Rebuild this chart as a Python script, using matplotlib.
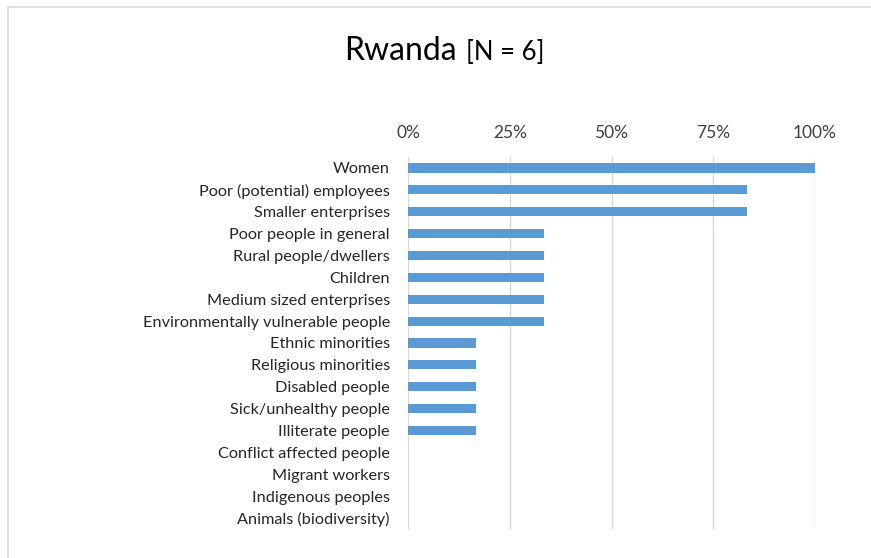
import matplotlib.pyplot as plt
from matplotlib.patches import Rectangle

categories = ["Women", "Poor (potential) employees", "Smaller enterprises",
              "Poor people in general", "Rural people/dwellers", "Children",
              "Medium sized enterprises", "Environmentally vulnerable people",
              "Ethnic minorities", "Religious minorities", "Disabled people",
              "Sick/unhealthy people", "Illiterate people", "Conflict affected people",
              "Migrant workers", "Indigenous peoples", "Animals (biodiversity)"]
counts = [6, 5, 5, 2, 2, 2, 2, 2, 1, 1, 1, 1, 1, 0, 0, 0, 0]
n_total = 6
shares = [c / n_total for c in counts]
ticks = [0, 0.25, 0.5, 0.75, 1.0]
tick_labels = ["0%", "25%", "50%", "75%", "100%"]

plt.rcParams['font.family'] = ['Lato', 'DejaVu Sans']

W, H = 871, 558
fig = plt.figure(figsize=(W / 100, H / 100), dpi=100)

# light frame around the chart area
fig.patches.append(Rectangle((8 / W, -0.1), 1.2, 1 - 7 / H + 0.1, transform=fig.transFigure,
                             fill=False, edgecolor="#d9d9d9", linewidth=1.2))

ax = fig.add_axes([408 / W, 1 - 529 / H, 407 / W, 372 / H])
y = list(range(len(categories)))
ax.barh(y, shares, height=0.42, color="#5b9bd5", zorder=3)
ax.set_ylim(len(categories) - 0.5, -0.5)
ax.set_xlim(0, 1)
ax.set_yticks(y)
ax.set_yticklabels(categories, fontsize=11.7, color="#262626")
ax.set_xticks(ticks)
ax.set_xticklabels(tick_labels, fontsize=12.5, color="#404040")
ax.xaxis.tick_top()
ax.tick_params(axis="both", length=0)
ax.tick_params(axis="x", pad=11.5)
ax.tick_params(axis="y", pad=13)
ax.grid(axis="x", color="#d9d9d9", linewidth=1, zorder=0)
for s in ax.spines.values():
    s.set_visible(False)

fig.text(457 / W, 1 - 60 / H, "Rwanda", fontsize=23, ha="right", va="baseline", color="#000000")
fig.text(466 / W, 1 - 60 / H, "[N = 6]", fontsize=18.5, ha="left", va="baseline", color="#000000")

fig.savefig("out.png", dpi=100)
